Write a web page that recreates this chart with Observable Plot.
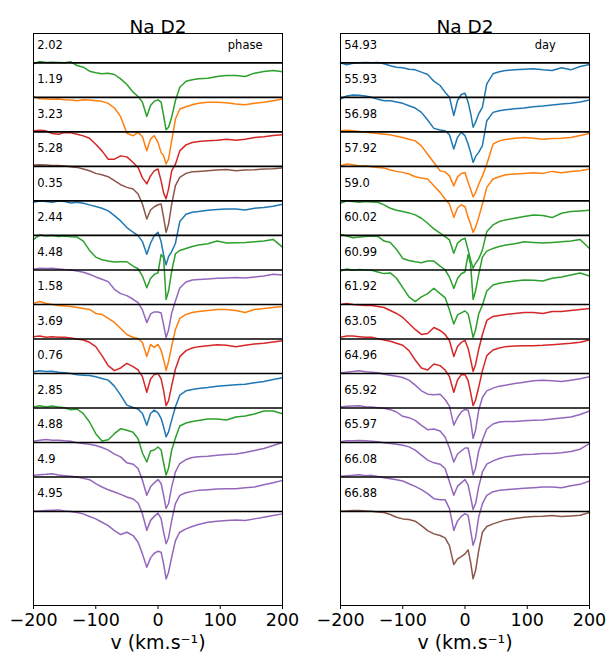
<!DOCTYPE html>
<html><head><meta charset="utf-8">
<script src="https://cdn.jsdelivr.net/npm/d3@7"></script>
<script src="https://cdn.jsdelivr.net/npm/@observablehq/plot@0.6"></script>
<style>
body{margin:0;background:#fff;font-family:"DejaVu Sans",sans-serif}
#wrap{position:relative;width:611px;height:657px;overflow:hidden}
.panel{position:absolute;top:0}
</style>
</head><body><div id="wrap"></div>
<script>
// velocity grid (km/s) shared by all spectra
const vel = [-200,-190,-180,-170,-160,-150,-140,-130,-120,-110,-100,-90,-80,-70,-60,-50,-40,-32,-25,-18,-12,-6,0,5,9,13,17,22,28,35,45,55,65,80,95,110,125,140,155,170,185,200];
const xTicks = [-200,-100,0,100,200];

// left panel (ordered by phase) labels
const phaseLabels = ["2.02","1.19","3.23","5.28","0.35","2.44","4.48","1.58","3.69","0.76","2.85","4.88","4.9","4.95"];
// right panel (ordered by day) labels
const dayLabels = ["54.93","55.93","56.98","57.92","59.0","60.02","60.99","61.92","63.05","64.96","65.92","65.97","66.08","66.88"];

// normalized flux, left panel, top to bottom
const pL0 = [.994,1.008,1.002,1.004,1.002,1.0,1.006,.984,.974,.95,.94,.934,.938,.93,.904,.87,.824,.798,.764,.678,.744,.77,.778,.764,.684,.598,.614,.674,.774,.854,.89,.898,.904,.908,.918,.924,.924,.918,.938,.948,.954,.946];
const pL1 = [1.004,.992,.99,.988,.99,.986,.984,.98,.986,.984,.98,.976,.964,.936,.884,.784,.77,.79,.764,.68,.75,.77,.73,.67,.65,.6,.63,.74,.87,.93,.944,.956,.964,.97,.97,.968,.96,.956,.964,.97,.98,.99];
const pL2 = [1.006,1.01,1.006,.99,.986,.996,.994,.986,.976,.962,.926,.886,.836,.836,.856,.85,.816,.786,.724,.688,.736,.766,.777,.706,.634,.598,.658,.766,.806,.886,.922,.936,.942,.946,.95,.956,.95,.956,.966,.97,.978,.982];
const pL3 = [1.008,1.01,1.008,1.006,1.006,1.002,.998,.994,.984,.974,.958,.95,.938,.914,.89,.874,.864,.834,.774,.684,.738,.758,.77,.774,.694,.604,.654,.774,.884,.934,.958,.968,.97,.974,.978,.982,.974,.978,.98,.984,.986,.99];
const pL4 = [.992,1.0,.996,.992,1.0,.996,.988,.992,.986,.976,.966,.956,.94,.912,.88,.84,.812,.792,.756,.68,.746,.792,.812,.756,.676,.616,.666,.696,.746,.876,.92,.932,.936,.944,.948,.952,.952,.946,.956,.96,.968,.98];
const pL5 = [.976,1.002,.996,1.0,.994,.996,.992,.99,.966,.91,.87,.854,.846,.84,.842,.842,.816,.8,.756,.686,.742,.766,.776,.886,.866,.616,.666,.786,.89,.91,.922,.934,.942,.95,.966,.954,.956,.958,.962,.966,.976,.93];
const pL6 = [1.004,1.01,1.008,1.01,1.006,1.002,1.0,.994,.986,.974,.958,.944,.93,.884,.858,.846,.824,.804,.76,.684,.736,.748,.748,.742,.67,.594,.64,.742,.814,.892,.928,.94,.943,.946,.95,.952,.955,.952,.958,.964,.974,.97];
const pL7 = [1.006,1.018,1.006,1.0,.994,.991,.988,.982,.976,.97,.946,.94,.916,.892,.856,.82,.802,.796,.772,.688,.76,.742,.76,.724,.67,.604,.658,.748,.85,.916,.94,.952,.958,.964,.97,.97,.964,.952,.97,.976,.982,.988];
const pL8 = [1.014,1.018,1.01,1.014,1.01,1.01,1.006,1.0,.994,.98,.954,.9,.84,.81,.826,.854,.834,.814,.774,.68,.76,.786,.794,.76,.69,.6,.63,.72,.82,.894,.93,.946,.954,.96,.966,.962,.954,.962,.97,.974,.982,.99];
const pL9 = [1.01,1.016,1.012,1.014,1.008,1.004,1.0,.992,.99,.988,.98,.97,.96,.924,.87,.81,.796,.786,.76,.69,.76,.78,.764,.73,.68,.62,.65,.72,.8,.87,.896,.904,.91,.916,.924,.928,.932,.936,.944,.952,.964,.974];
const pL10 = [1.006,1.014,1.006,1.012,1.006,1.002,.99,.994,.966,.916,.846,.802,.81,.846,.876,.866,.854,.816,.73,.676,.742,.748,.766,.748,.67,.598,.64,.748,.82,.892,.91,.919,.925,.934,.934,.928,.946,.952,.964,.982,.982,.966];
const pL11 = [1.008,1.014,1.018,1.014,1.014,1.01,1.008,.998,.994,.99,.982,.97,.954,.93,.914,.878,.87,.844,.774,.684,.734,.758,.778,.754,.684,.604,.634,.734,.824,.874,.898,.91,.914,.918,.924,.928,.931,.94,.952,.964,.982,1.0];
const pL12 = [1.01,1.014,1.016,1.02,1.012,1.008,1.004,1.0,.992,.984,.96,.94,.924,.91,.896,.88,.868,.844,.78,.68,.74,.764,.784,.75,.67,.6,.636,.74,.84,.89,.906,.914,.92,.924,.928,.93,.93,.936,.94,.954,.966,.98];
const pL13 = [1.002,1.004,1.006,1.008,1.01,1.004,1.0,.994,.986,.97,.956,.936,.916,.886,.862,.876,.856,.816,.746,.666,.722,.75,.762,.756,.686,.596,.636,.726,.826,.876,.896,.91,.922,.936,.942,.946,.95,.946,.956,.966,.976,.986];

// normalized flux, right panel, top to bottom
const dR0 = [1.0,.988,.998,1.0,1.002,1.0,1.002,.994,.982,.974,.97,.962,.958,.944,.93,.89,.864,.824,.794,.684,.774,.81,.818,.764,.698,.614,.644,.694,.734,.874,.934,.946,.954,.958,.962,.964,.958,.954,.97,.958,.978,.99];
const dR1 = [.99,1.008,1.014,1.012,1.008,1.0,.988,.98,.98,.972,.964,.95,.936,.91,.864,.814,.804,.8,.776,.69,.76,.79,.77,.72,.67,.61,.644,.67,.71,.86,.91,.92,.926,.932,.936,.944,.948,.954,.96,.964,.972,.984];
const dR2 = [1.006,1.01,1.006,1.002,.998,.994,.99,.986,.982,.974,.966,.956,.946,.916,.866,.816,.766,.76,.736,.676,.73,.75,.756,.696,.656,.61,.636,.686,.736,.806,.926,.946,.954,.962,.966,.962,.956,.96,.962,.966,.978,.99];
const dR3 = [1.004,1.014,1.01,1.002,1.004,.998,.994,.99,.978,.97,.964,.954,.938,.93,.924,.884,.844,.804,.774,.694,.75,.77,.758,.694,.654,.604,.634,.694,.774,.874,.924,.938,.95,.954,.958,.962,.958,.97,.962,.97,.974,.984];
const dR4 = [.986,1.0,.996,.992,.996,.994,.992,.976,.956,.944,.936,.928,.916,.896,.866,.832,.806,.786,.766,.686,.746,.766,.776,.706,.646,.596,.626,.652,.706,.816,.856,.876,.886,.896,.906,.916,.912,.9,.926,.936,.94,.944];
const dR5 = [1.006,.996,.986,.99,.994,.996,.994,.966,.958,.916,.862,.85,.842,.836,.846,.846,.816,.794,.75,.682,.742,.77,.782,.886,.826,.616,.666,.766,.87,.906,.922,.934,.942,.95,.962,.958,.954,.958,.962,.966,.976,.922];
const dR6 = [.994,1.006,.998,1.002,1.0,.998,.988,.978,.982,.95,.894,.838,.81,.838,.858,.89,.858,.834,.76,.676,.73,.742,.754,.736,.67,.594,.64,.736,.79,.874,.91,.92,.926,.934,.94,.938,.934,.95,.958,.97,.982,.964];
const dR7 = [1.0,1.006,1.0,.997,.994,.994,.988,.982,.964,.946,.922,.886,.85,.82,.826,.862,.844,.82,.784,.688,.748,.772,.784,.736,.67,.598,.64,.73,.82,.904,.928,.934,.94,.946,.952,.952,.946,.958,.958,.964,.97,.976];
const dR8 = [1.01,1.018,1.018,1.014,1.01,1.01,1.002,.994,.986,.974,.962,.93,.874,.826,.814,.85,.84,.814,.774,.68,.754,.786,.786,.75,.68,.6,.634,.71,.81,.9,.934,.946,.954,.958,.96,.96,.962,.966,.97,.974,.98,.994];
const dR9 = [1.004,1.008,1.012,1.016,1.01,1.008,1.004,.996,.99,.984,.976,.96,.93,.896,.876,.872,.876,.844,.804,.69,.736,.77,.784,.78,.72,.61,.66,.78,.856,.896,.912,.924,.93,.94,.948,.956,.96,.956,.952,.96,.968,.98];
const dR10 = [1.006,1.01,1.012,1.014,1.008,1.006,1.002,.998,.99,.976,.95,.942,.926,.896,.87,.874,.862,.826,.76,.676,.724,.742,.76,.76,.688,.598,.64,.742,.808,.874,.904,.916,.919,.919,.924,.926,.928,.934,.94,.946,.961,.982];
const dR11 = [1.004,1.01,1.01,1.012,1.01,1.008,1.004,.998,.994,.99,.984,.974,.954,.924,.894,.878,.87,.844,.764,.684,.738,.758,.778,.744,.674,.598,.634,.734,.824,.87,.89,.904,.914,.922,.928,.93,.934,.934,.938,.946,.96,.994];
const dR12 = [1.004,1.008,1.01,1.014,1.008,1.01,1.004,.996,.99,.984,.976,.96,.944,.924,.9,.87,.864,.864,.81,.68,.736,.764,.78,.77,.68,.59,.636,.76,.84,.89,.912,.92,.924,.928,.932,.936,.94,.94,.936,.948,.956,.976];
const dR13 = [1.002,1.004,1.006,1.006,1.004,1.002,.998,.994,.982,.966,.956,.952,.942,.916,.886,.866,.856,.842,.796,.682,.716,.73,.746,.77,.696,.596,.646,.766,.876,.91,.926,.938,.95,.958,.966,.97,.972,.976,.97,.974,.978,.994];

const phaseSpectra = [pL0,pL1,pL2,pL3,pL4,pL5,pL6,pL7,pL8,pL9,pL10,pL11,pL12,pL13];
const daySpectra = [dR0,dR1,dR2,dR3,dR4,dR5,dR6,dR7,dR8,dR9,dR10,dR11,dR12,dR13];

// styling (tab10 colours)
const C = {blue:"#1f77b4", orange:"#ff7f0e", green:"#2ca02c", red:"#d62728", purple:"#9467bd", brown:"#8c564b"};
const phaseColors = [C.green,C.orange,C.red,C.brown,C.blue,C.green,C.purple,C.orange,C.red,C.blue,C.green,C.purple,C.purple,C.purple];
const dayColors = [C.blue,C.blue,C.orange,C.orange,C.green,C.green,C.green,C.red,C.red,C.purple,C.purple,C.purple,C.purple,C.brown];

const STEP = 0.2071;      // vertical offset between stacked spectra
const LABEL_UP = 0.108;   // label position above each baseline
const YMAX = 1.176, YMIN = YMAX - 3.432;
const FONT = "DejaVu Sans";
const fmt = d => (d < 0 ? "\u2212" : "") + Math.abs(d);

function panel(spectra, labels, colors, corner, cornerV, left, width, marginLeft) {
  const rows = [];
  spectra.forEach((arr, i) => arr.forEach((f, j) => rows.push({i, v: vel[j], y: f - i * STEP, c: colors[i]})));
  const base = labels.map((_, i) => ({y: 1 - i * STEP}));
  const labs = labels.map((t, i) => ({t, y: 1 - i * STEP + LABEL_UP}));
  const svg = Plot.plot({
    width, height: 657,
    marginLeft, marginRight: width - marginLeft - 249, marginTop: 33, marginBottom: 52,
    style: {fontFamily: FONT, background: "white", color: "black"},
    x: {domain: [-200, 200]},
    y: {domain: [YMIN, YMAX], axis: null},
    color: {type: "identity"},
    marks: [
      Plot.line(rows, {x: "v", y: "y", z: "i", stroke: "c", strokeWidth: 1.5}),
      Plot.ruleY(base, {y: "y", stroke: "black", strokeWidth: 1.6}),
      Plot.text(labs, {x: -194, y: "y", text: "t", textAnchor: "start", fontSize: 11.5, fill: "black"}),
      Plot.text([corner], {x: cornerV, y: 1 + LABEL_UP, text: d => d, fontSize: 11.5, fill: "black"}),
      Plot.frame({stroke: "black", strokeWidth: 1}),
      Plot.axisX({ticks: xTicks, tickFormat: fmt, tickSize: 4, tickPadding: 4, fontSize: 17.5, label: null}),
      Plot.text(["Na D2"], {frameAnchor: "top", dy: -13.3, fontSize: 18.5, fill: "black"}),
      Plot.text(["v (km.s\u207B\u00B9)"], {frameAnchor: "bottom", dy: 43, fontSize: 19, fill: "black"})
    ]
  });
  svg.classList.add("panel");
  svg.style.left = left + "px";
  return svg;
}

const wrap = document.getElementById("wrap");
wrap.appendChild(panel(phaseSpectra, phaseLabels, phaseColors, "phase", 140, 0, 305, 33));
wrap.appendChild(panel(daySpectra, dayLabels, dayColors, "day", 129, 305, 306, 35));
</script>
</body></html>
